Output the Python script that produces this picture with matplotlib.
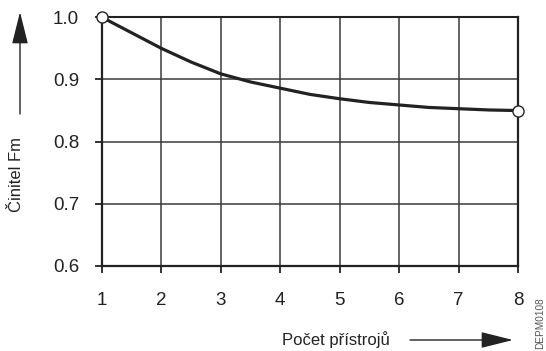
import matplotlib
matplotlib.use("Agg")
import matplotlib.pyplot as plt

# Number of devices and the resulting factor Fm (read at half steps along the curve)
pocet = [1, 1.5, 2, 2.5, 3, 3.5, 4, 4.5, 5, 5.5, 6, 6.5, 7, 7.5, 8]
fm = [1.0, 0.975, 0.950, 0.928, 0.909, 0.896, 0.886, 0.876, 0.869, 0.863,
      0.859, 0.855, 0.853, 0.851, 0.85]

# End points highlighted with open circles
end_x = [1, 8]
end_y = [1.0, 0.85]

x_ticks = [1, 2, 3, 4, 5, 6, 7, 8]
y_ticks = [0.6, 0.7, 0.8, 0.9, 1.0]
y_ticklabels = ["0.6", "0.7", "0.8", "0.9", "1.0"]

plt.rcParams["font.family"] = ["Liberation Sans", "DejaVu Sans"]

W, H = 546, 351
fig = plt.figure(figsize=(W / 100, H / 100), dpi=100)
ax = fig.add_axes([102 / W, 1 - 266 / H, (518 - 102) / W, (266 - 17.3) / H])

ink = "#222222"
ax.plot(pocet, fm, color=ink, lw=2.3, solid_capstyle="round",
        solid_joinstyle="round", zorder=3)
ax.plot(end_x, end_y, ls="none", marker="o", ms=8, mfc="white",
        mec=ink, mew=1.0, zorder=4, clip_on=False)

ax.set_xlim(1, 8)
ax.set_ylim(0.6, 1.0)
ax.set_xticks(x_ticks)
ax.set_yticks(y_ticks)
ax.set_yticklabels(y_ticklabels)
ax.grid(True, color="#3a3a3a", lw=1.1)
ax.set_axisbelow(True)

for side in ["left", "bottom", "right"]:
    ax.spines[side].set_linewidth(1.6)
    ax.spines[side].set_color(ink)
ax.spines["top"].set_linewidth(1.5)
ax.spines["top"].set_color(ink)

ax.tick_params(axis="both", length=5, width=1.3, color=ink,
               labelsize=13.5, labelcolor=ink)
ax.tick_params(axis="y", pad=11.5)
ax.tick_params(axis="x", pad=14)

# Axis titles with their direction arrows
fig.text(17 / W, 1 - 174 / H, "Činitel Fm", rotation=90, ha="center",
         va="center", fontsize=12, color=ink)
fig.text(336 / W, 1 - 340 / H, "Počet přístrojů", ha="center",
         va="center", fontsize=12, color=ink)

arrow_kw = dict(arrowstyle="-|>,head_length=1.0,head_width=0.25",
                mutation_scale=20, color=ink, lw=1.0, shrinkA=0, shrinkB=0)
ax.annotate("", xy=(20, H - 12), xytext=(20, H - 114),
            xycoords="figure pixels", textcoords="figure pixels",
            arrowprops=arrow_kw, annotation_clip=False)
ax.annotate("", xy=(513, H - 340), xytext=(410, H - 340),
            xycoords="figure pixels", textcoords="figure pixels",
            arrowprops=arrow_kw, annotation_clip=False)

fig.text(540 / W, 1 - 349 / H, "DEPM0108", rotation=90, ha="center",
         va="bottom", fontsize=7.2, color="#555555")

fig.savefig("out.png", dpi=100)
